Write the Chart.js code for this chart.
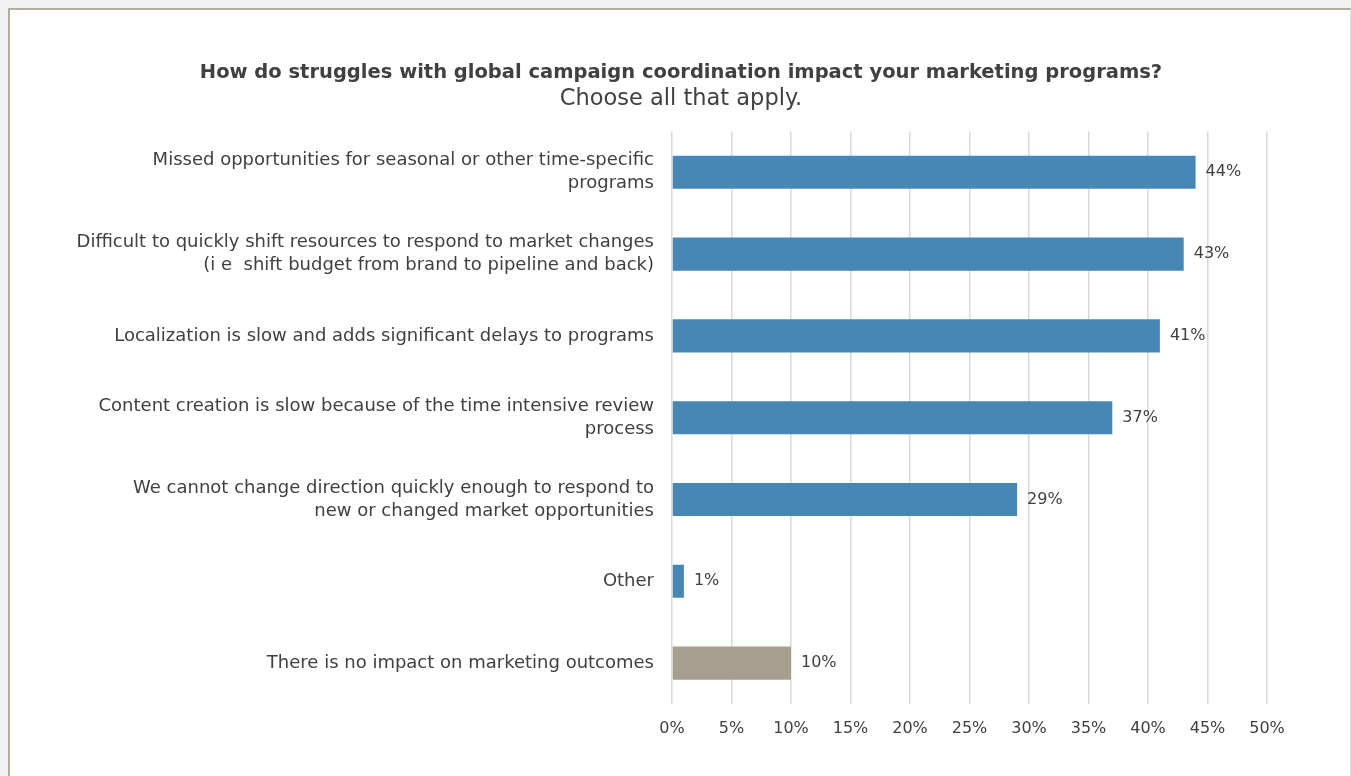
<!DOCTYPE html>
<html>
<head>
<meta charset="utf-8">
<script src="https://cdn.jsdelivr.net/npm/chart.js@4"></script>
<style>
  html, body { margin: 0; padding: 0; width: 1351px; height: 776px; overflow: hidden; background: #f2f2f2; }
  #frame { position: absolute; left: 8px; top: 8px; width: 1340px; height: 800px; background: #ffffff;
           border-left: 2px solid #b3ad9b; border-top: 2px solid #b3ad9b; border-right: 1px solid #dedede; }
  #wrap { position: absolute; left: 0; top: 0; width: 1351px; height: 776px; }
</style>
</head>
<body>
<div id="frame"></div>
<div id="wrap"><canvas id="c" width="1351" height="776"></canvas></div>
<script>
const titleText = 'How do struggles with global campaign coordination impact your marketing programs?';
const subtitleText = 'Choose all that apply.';
const categories = [
  ['Missed opportunities for seasonal or other time-specific', 'programs'],
  ['Difficult to quickly shift resources to respond to market changes', '(i e  shift budget from brand to pipeline and back)'],
  'Localization is slow and adds significant delays to programs',
  ['Content creation is slow because of the time intensive review', 'process'],
  ['We cannot change direction quickly enough to respond to', 'new or changed market opportunities'],
  'Other',
  'There is no impact on marketing outcomes'
];
const values = [44, 43, 41, 37, 29, 1, 10];
const barColors = ['#4787b6', '#4787b6', '#4787b6', '#4787b6', '#4787b6', '#4787b6', '#a69f8d'];
const tickValues = [0, 5, 10, 15, 20, 25, 30, 35, 40, 45, 50];

const FONT = '"DejaVu Sans", sans-serif';
const TEXT = '#404040';
const TITLE_CENTER_X = 681;

// value labels drawn just past the end of each bar
const valueLabels = {
  id: 'valueLabels',
  afterDatasetsDraw(chart) {
    const ctx = chart.ctx;
    const meta = chart.getDatasetMeta(0);
    const xs = chart.scales.x;
    ctx.save();
    ctx.font = '16px ' + FONT;
    ctx.fillStyle = TEXT;
    ctx.textAlign = 'left';
    ctx.textBaseline = 'middle';
    meta.data.forEach((bar, i) => {
      const x = xs.getPixelForValue(values[i]) + 10;
      ctx.fillText(values[i] + '%', x, bar.y);
    });
    ctx.restore();
  }
};

// keep the heading lines centred over the whole card rather than the padded area
const centerHeading = {
  id: 'centerHeading',
  afterLayout(chart) {
    chart.boxes
      .filter(b => b.options && (b.options.text === titleText || b.options.text === subtitleText))
      .forEach(block => {
        const shift = TITLE_CENTER_X - (block.left + block.right) / 2;
        block.left += shift;
        block.right += shift;
      });
  }
};

new Chart(document.getElementById('c'), {
  type: 'bar',
  data: {
    labels: categories,
    datasets: [{
      data: values,
      backgroundColor: barColors,
      borderWidth: 0,
      categoryPercentage: 1,
      barPercentage: 0.405
    }]
  },
  options: {
    indexAxis: 'y',
    responsive: false,
    animation: false,
    layout: { padding: { left: 30, right: 84, top: 61, bottom: 32 } },
    plugins: {
      legend: { display: false },
      tooltip: { enabled: false },
      title: {
        display: true,
        text: titleText,
        color: TEXT,
        font: { family: FONT, size: 19.5, weight: 'bold', lineHeight: 1.2 },
        padding: { top: 0, bottom: 0.8 }
      },
      subtitle: {
        display: true,
        text: subtitleText,
        color: TEXT,
        font: { family: FONT, size: 22.5, weight: 'normal', lineHeight: 1.2 },
        padding: { top: 0, bottom: 19.2 }
      }
    },
    scales: {
      x: {
        min: 0,
        max: 50,
        afterBuildTicks(scale) { scale.ticks = tickValues.map(v => ({ value: v })); },
        afterFit(scale) { scale.height = 40; },
        grid: { color: '#d9d9d9', lineWidth: 1.5, drawTicks: false },
        border: { display: false },
        ticks: {
          padding: 15,
          color: TEXT,
          font: { family: FONT, size: 16 },
          callback: v => v + '%'
        }
      },
      y: {
        afterFit(scale) { scale.width = 642; },
        grid: { display: false, drawTicks: false },
        border: { display: false },
        ticks: {
          padding: 18,
          color: TEXT,
          font: { family: FONT, size: 18, lineHeight: 1.28 }
        }
      }
    }
  },
  plugins: [valueLabels, centerHeading]
});
</script>
</body>
</html>
